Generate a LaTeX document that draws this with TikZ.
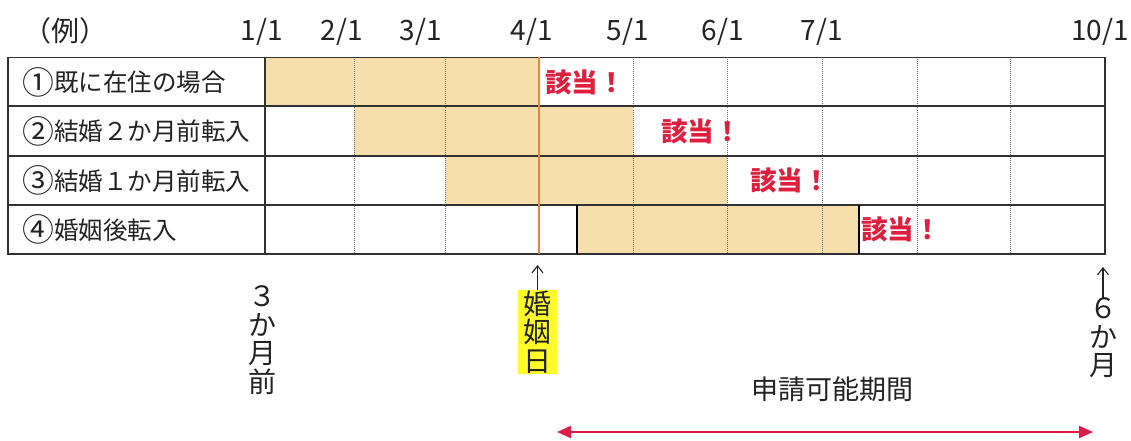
\documentclass[tikz,border=0pt]{standalone}
\usepackage{fontspec}
\setmainfont{Noto Sans CJK JP}
\usetikzlibrary{arrows.meta}
\definecolor{tanfill}{RGB}{246,223,172}
\definecolor{gaitou}{RGB}{222,32,62}
\definecolor{wedline}{RGB}{232,132,62}
\definecolor{gridc}{RGB}{50,50,50}
\definecolor{dotc}{RGB}{110,110,110}
\definecolor{hilite}{RGB}{255,250,40}
\definecolor{period}{RGB}{218,30,72}
\definecolor{txt}{RGB}{35,35,35}
\newcommand{\circnum}[1]{\raisebox{-2.5pt}{\scalebox{1.3}{#1}}}
\begin{document}
\begin{tikzpicture}[x=1pt,y=-1pt,
 datelbl/.style={font=\fontsize{28}{30}\selectfont, text=txt, inner sep=0},
 rowlbl/.style={font=\fontsize{24.5}{28}\selectfont, text=txt, anchor=west, inner sep=0},
 hit/.style={font=\bfseries\fontsize{26.5}{28}\selectfont, text=gaitou, inner sep=0},
 vert/.style={font=\fontsize{28}{28.5}\selectfont, text=txt, align=center, inner sep=0},
 gridh/.style={draw=gridc, line width=1.7},
 griddot/.style={draw=dotc, line width=0.8, dash pattern=on 1pt off 1pt},
 uparr/.style={draw=txt, line width=1.1, -{Straight Barb[length=7,width=11]}},
]
\useasboundingbox (0,0) rectangle (1131,441);
\fill[white] (0,0) rectangle (1131,441);

% shaded periods
\fill[tanfill] (265,57.5) rectangle (539,106);
\fill[tanfill] (354,106) rectangle (633,156);
\fill[tanfill] (445,156) rectangle (727,205);
\fill[tanfill] (577,205) rectangle (859,254);

% grid
\foreach \x in {354,445,633,727,822,917,1010}
  \draw[griddot] (\x,57.5) -- (\x,254);
\foreach \y in {106,156,205}
  \draw[gridh] (8,\y) -- (1105,\y);
\draw[gridh] (8,57.5) rectangle (1105,254);
\draw[gridh] (265,57.5) -- (265,254);
\draw[draw=black, line width=1.3] (577,205) -- (577,254) (859,205) -- (859,254);
\draw[wedline, line width=2.6] (539,57.5) -- (539,254);

% header
\node[datelbl] (ex) at (65,31) {（例）};
\node[datelbl] (d1) at (262,32) {1/1};
\node[datelbl] (d2) at (342,32) {2/1};
\node[datelbl] (d3) at (421,32) {3/1};
\node[datelbl] (d4) at (532,32) {4/1};
\node[datelbl] (d5) at (628,32) {5/1};
\node[datelbl] (d6) at (723,32) {6/1};
\node[datelbl] (d7) at (822,32) {7/1};
\node[datelbl] (d10) at (1100,32) {10/1};

% row labels
\node[rowlbl] (r1) at (22,82) {\circnum{①}既に在住の場合};
\node[rowlbl] (r2) at (22,131) {\circnum{②}結婚２か月前転入};
\node[rowlbl] (r3) at (22,180.5) {\circnum{③}結婚１か月前転入};
\node[rowlbl] (r4) at (22,229.5) {\circnum{④}婚姻後転入};

% hits
\node[hit] (h1) at (585,82) {該当！};
\node[hit] (h2) at (701,131) {該当！};
\node[hit] (h3) at (790,180.5) {該当！};
\node[hit] (h4) at (901,229.5) {該当！};

% bottom annotations
\node[vert, fill=hilite, minimum width=39, minimum height=84] (kon) at (537.5,332) {婚\\姻\\日};
\coordinate (konarr) at (537.5,265);
\draw[uparr] (kon.north) -- (konarr);

\node[vert] (three) at (262,340) {３\\か\\月\\前};

\node[vert] (six) at (1103,338) {６\\か\\月};
\coordinate (sixarr) at (1103,267);
\draw[uparr] (six.north) -- (sixarr);

\node[font=\fontsize{27}{30}\selectfont, text=txt, inner sep=0] (per) at (832,389) {申請可能期間};
\coordinate (pl) at (557,432);
\coordinate (pr) at (1093,432);
\draw[period, line width=2, {Triangle[length=14,width=12]}-{Triangle[length=14,width=12]}] (pl) -- (pr);
\end{tikzpicture}
\end{document}
